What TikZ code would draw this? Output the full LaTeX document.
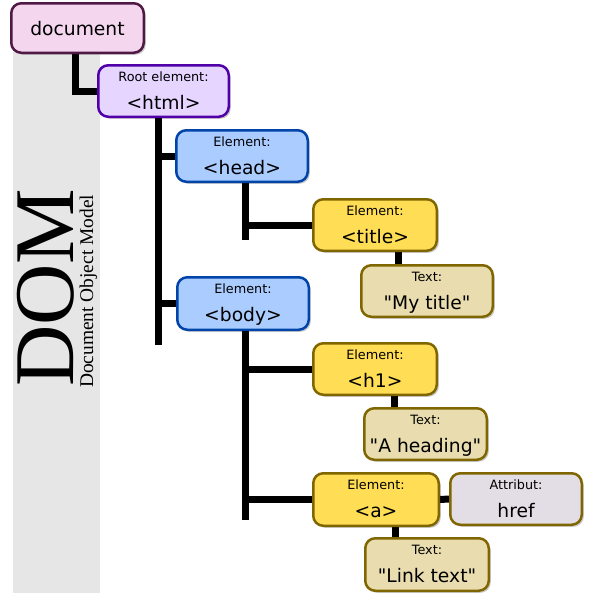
\documentclass[tikz,border=0pt]{standalone}
\usepackage{fontspec}
\setmainfont{DejaVu Sans}[Ligatures=TeXOff]
\newfontfamily\domserif{Liberation Serif}
\usetikzlibrary{fit,shadows,backgrounds}
\definecolor{docfill}{HTML}{F4D7EE}
\definecolor{docdraw}{HTML}{501845}
\definecolor{htmlfill}{HTML}{E5D5FF}
\definecolor{htmldraw}{HTML}{5000A8}
\definecolor{headfill}{HTML}{AACCFF}
\definecolor{headdraw}{HTML}{0044AA}
\definecolor{elfill}{HTML}{FFDD55}
\definecolor{eldraw}{HTML}{806600}
\definecolor{txtfill}{HTML}{E9DDAF}
\definecolor{attrfill}{HTML}{E3DDE6}
\definecolor{band}{HTML}{E6E6E6}
\tikzset{
  box/.style={rectangle, rounded corners=10pt, line width=2.5pt, inner sep=-1.25pt,
    drop shadow={shadow xshift=2pt, shadow yshift=-2pt, opacity=0.2, fill=black}},
  docbox/.style={box, fill=docfill, draw=docdraw},
  htmlbox/.style={box, fill=htmlfill, draw=htmldraw},
  blubox/.style={box, fill=headfill, draw=headdraw},
  elbox/.style={box, fill=elfill, draw=eldraw},
  txtbox/.style={box, fill=txtfill, draw=eldraw},
  attrbox/.style={box, fill=attrfill, draw=eldraw},
  small/.style={anchor=base, inner sep=0, font=\fontsize{12.8}{14}\selectfont},
  big/.style={anchor=base, inner sep=0, font=\fontsize{18.7}{20}\selectfont},
  conn/.style={line width=7pt, black, line cap=butt, line join=miter},
}
\newcommand\mybox[8]{%
  \node[#2, fit={(#3,#4) (#5,#6)}] (#1) {};
  \node[small] (#1-l) at ({(#3+#5)/2},#4+17) {#7};
  \node[big] (#1-m) at ({(#3+#5)/2},#4+45) {#8};
}
\begin{document}
\begin{tikzpicture}[x=1pt, y=-1pt]
\useasboundingbox (0,0) rectangle (600,600);
% document box
\node[docbox, fit={(10,2) (145,54)}] (doc) {};
\node[big] (doc-m) at (77.5,35) {document};
\mybox{html}{htmlbox}{97}{64}{230}{118}{Root element:}{<html>}
\mybox{head}{blubox}{175}{129}{309}{183}{Element:}{<head>}
\mybox{body}{blubox}{176}{276}{310}{331}{Element:}{<body>}
\mybox{title}{elbox}{312}{198}{438}{252}{Element:}{<title>}
\mybox{mytitle}{txtbox}{360}{264}{494}{318}{Text:}{"My title"}
\mybox{h1}{elbox}{312}{342}{438}{396}{Element:}{<h1>}
\mybox{ahead}{txtbox}{363}{407}{488}{461}{Text:}{"A heading"}
\mybox{a}{elbox}{312}{472}{440}{527}{Element:}{<a>}
\mybox{attr}{attrbox}{449}{472}{583}{526}{Attribut:}{href}
\mybox{link}{txtbox}{364}{537}{490}{592}{Text:}{"Link text"}
% DOM title
\node[rotate=90, anchor=base west, inner sep=0, font=\domserif\fontsize{85}{85}\selectfont] (dom) at (73,387) {DOM};
\node[rotate=90, anchor=base west, inner sep=0, font=\domserif\fontsize{19.4}{20}\selectfont] (domsub) at (93,388) {Document Object Model};
\coordinate (hv) at (158,345);
\coordinate (headv) at (245,240);
\coordinate (bodyv) at (245,520);
\coordinate (t1) at (398,258);
\coordinate (t2) at (394.5,400);
\coordinate (t3) at (395,530);
\begin{pgfonlayer}{background}
\fill[band] (13,52) rectangle (100,593);
\draw[conn] ([xshift=-2.5pt]doc.south) |- (html.west);
\draw[conn] (html.south -| hv) -- (hv);
\draw[conn] (hv |- head.west) -- (head.west);
\draw[conn] (hv |- body.west) -- (body.west);
\draw[conn] (head.south -| headv) -- (headv);
\draw[conn] (headv |- title.west) -- (title.west);
\draw[conn] (body.south -| bodyv) -- (bodyv);
\draw[conn] (bodyv |- h1.west) -- (h1.west);
\draw[conn] (bodyv |- a.west) -- (a.west);
\draw[conn] (title.south -| t1) -- (mytitle.north -| t1);
\draw[conn] (h1.south -| t2) -- (ahead.north -| t2);
\draw[conn] (a.south -| t3) -- (link.north -| t3);
\draw[conn] (a.east) -- (attr.west);
\end{pgfonlayer}
\end{tikzpicture}
\end{document}
